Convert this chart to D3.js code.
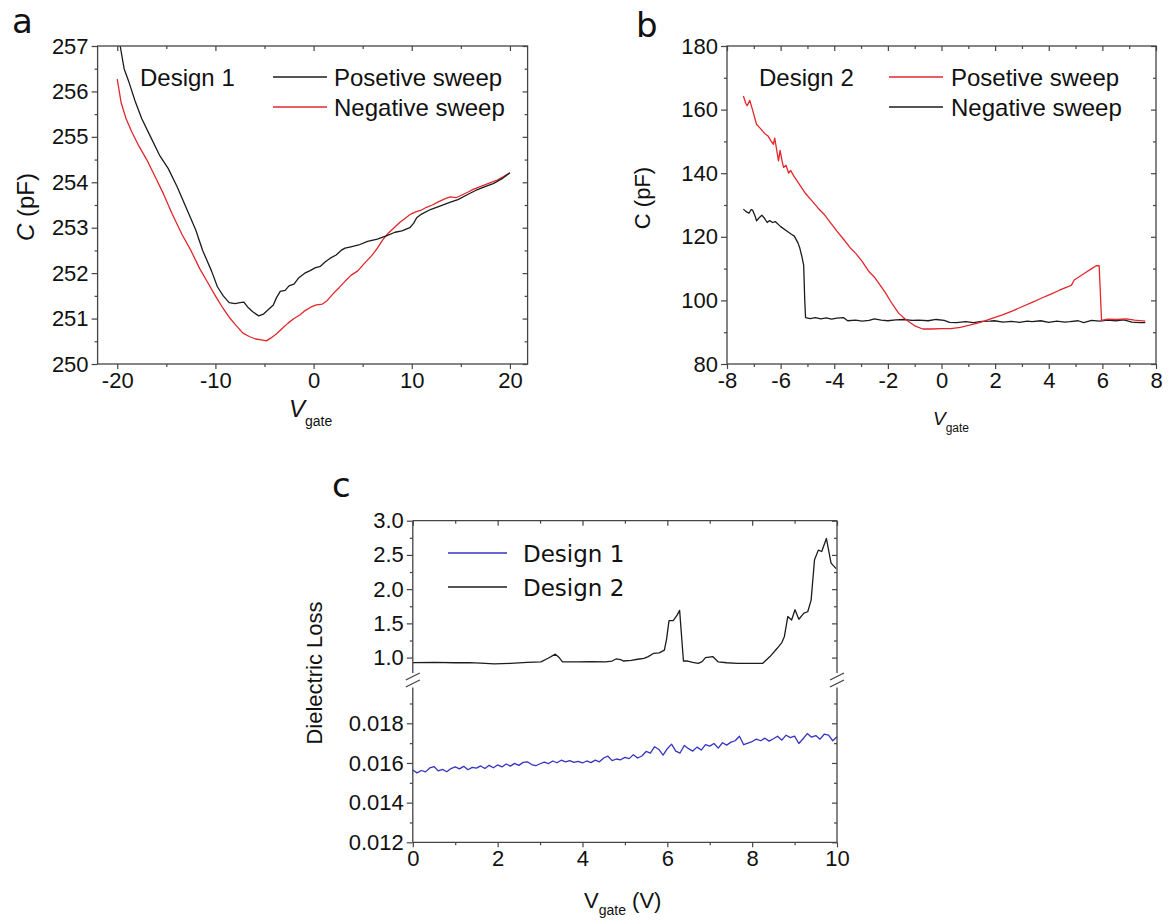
<!DOCTYPE html>
<html><head><meta charset="utf-8">
<script src="https://cdn.jsdelivr.net/npm/d3@7"></script>
<style>body{margin:0;background:#fff} svg{display:block}</style>
</head><body><svg id="chart" width="1169" height="921"></svg>
<script>
// ---------- Panel a : Design 1, C vs Vgate ----------
const aPosV = [-20.0,-19.7,-19.3,-18.8,-18.2,-17.5,-16.6,-15.7,-14.8,-13.9,-12.9,-12.0,-11.3,-10.9,-10.4,-9.8,-9.2,-8.6,-8.0,-7.5,-7.1,-6.7,-6.2,-5.6,-5.1,-4.6,-4.1,-3.8,-3.4,-2.9,-2.5,-2.0,-1.5,-0.9,-0.4,0.2,0.7,1.2,1.7,2.3,2.8,3.2,3.8,4.6,5.5,6.5,7.4,8.3,9.0,9.8,10.2,10.5,11.0,11.9,12.8,13.8,14.7,15.6,16.5,17.4,18.3,19.2,20.0];
const aPosC = [257.6,257.0,256.5,256.2,255.8,255.4,255.0,254.6,254.3,253.9,253.4,252.95,252.5,252.3,252.05,251.7,251.5,251.35,251.33,251.35,251.36,251.25,251.15,251.06,251.1,251.2,251.3,251.45,251.6,251.62,251.72,251.76,251.9,252.0,252.05,252.12,252.15,252.25,252.33,252.4,252.5,252.55,252.58,252.62,252.7,252.75,252.82,252.9,252.93,253.0,253.1,253.22,253.3,253.4,253.47,253.55,253.62,253.72,253.82,253.9,253.97,254.08,254.21];
const aNegV = [-20.0,-19.6,-19.1,-18.5,-17.8,-17.0,-16.2,-15.3,-14.4,-13.4,-12.5,-11.6,-10.8,-10.0,-9.3,-8.6,-7.9,-7.2,-6.5,-5.9,-5.3,-4.8,-4.3,-3.8,-3.2,-2.6,-2.0,-1.4,-0.9,-0.3,0.3,0.9,1.4,2.0,2.6,3.2,3.8,4.5,5.2,5.9,6.5,7.1,7.6,8.2,8.8,9.4,9.9,10.4,10.9,11.5,12.1,12.7,13.3,13.9,14.5,15.1,15.7,16.3,16.9,17.5,18.1,18.7,19.3,20.0];
const aNegC = [256.27,255.75,255.4,255.1,254.8,254.5,254.15,253.75,253.3,252.85,252.5,252.1,251.8,251.5,251.25,251.03,250.85,250.68,250.6,250.55,250.53,250.51,250.58,250.66,250.78,250.9,251.0,251.08,251.17,251.25,251.3,251.32,251.4,251.55,251.68,251.82,251.95,252.05,252.22,252.38,252.55,252.75,252.88,253.0,253.12,253.22,253.3,253.35,253.38,253.45,253.5,253.57,253.63,253.68,253.66,253.72,253.78,253.85,253.9,253.95,254.0,254.05,254.12,254.21];
const aXTicks = [-20,-10,0,10,20];
const aXMinor = [-15,-5,5,15];
const aYTicks = [250,251,252,253,254,255,256,257];
const aYMinor = [250.5,251.5,252.5,253.5,254.5,255.5,256.5];

// ---------- Panel b : Design 2, C vs Vgate ----------
const bPosV = [-7.39,-7.3,-7.25,-7.15,-7.05,-6.9,-6.75,-6.6,-6.48,-6.35,-6.27,-6.22,-6.15,-6.08,-6.02,-5.95,-5.89,-5.8,-5.7,-5.63,-5.5,-5.3,-5.07,-4.8,-4.6,-4.37,-4.1,-3.9,-3.66,-3.4,-3.2,-2.96,-2.7,-2.5,-2.39,-2.1,-1.83,-1.6,-1.4,-1.27,-1.0,-0.7,-0.4,0,0.35,0.7,1.05,1.41,1.7,1.97,2.3,2.68,3.0,3.38,3.7,4.08,4.4,4.72,4.85,4.95,5.35,5.6,5.77,5.88,5.97,6.2,6.5,6.9,7.2,7.6];
const bPosC = [164.3,162.0,161.2,162.9,160.0,155.4,154.0,152.5,151.8,150.0,149.1,151.0,147.5,143.9,147.2,144.0,141.8,142.5,140.0,140.9,139.0,136.5,133.6,131.0,129.0,127.0,124.0,121.8,119.3,116.5,114.8,112.3,109.0,107.3,106.0,102.5,98.8,96.0,94.5,93.6,92.0,91.0,91.0,91.1,91.1,91.5,92.2,93.0,93.8,94.6,95.5,96.8,98.0,99.4,100.6,102.0,103.2,104.3,104.8,106.4,108.6,110.0,110.9,110.9,93.7,94.1,94.0,94.2,93.8,93.5];
const bNegV = [-7.39,-7.3,-7.18,-7.1,-7.04,-6.95,-6.9,-6.8,-6.7,-6.62,-6.5,-6.41,-6.3,-6.2,-6.0,-5.77,-5.6,-5.49,-5.35,-5.28,-5.2,-5.14,-5.1,-5.07,-4.9,-4.7,-4.5,-4.3,-4.1,-3.9,-3.66,-3.5,-3.2,-2.96,-2.7,-2.5,-2.25,-2.0,-1.7,-1.4,-1.1,-0.85,-0.5,-0.2,0.1,0.3,0.56,0.9,1.2,1.5,1.8,1.97,2.3,2.6,2.9,3.2,3.38,3.7,4.0,4.3,4.6,4.79,5.1,5.3,5.6,5.9,6.2,6.5,6.8,7.1,7.4,7.6];
const bNegC = [128.7,128.0,127.4,128.6,128.3,126.5,125.0,126.0,126.8,126.0,124.5,125.1,124.5,124.8,123.2,121.8,120.8,120.2,118.0,116.3,113.5,111.0,100.0,94.6,94.3,94.6,94.2,94.5,94.1,94.4,94.6,93.6,93.8,93.5,93.7,94.2,93.8,93.6,93.9,94.0,93.7,93.8,93.6,94.0,93.7,93.1,93.0,93.3,93.0,93.4,93.5,93.6,93.2,93.4,93.1,93.5,93.3,93.6,93.1,93.5,93.2,93.3,93.6,93.0,93.7,93.5,93.8,93.6,93.9,93.2,93.0,93.0];
const bXTicks = [-8,-6,-4,-2,0,2,4,6,8];
const bXMinor = [-7,-5,-3,-1,1,3,5,7];
const bYTicks = [80,100,120,140,160,180];
const bYMinor = [90,110,130,150,170];

// ---------- Panel c : Dielectric loss ----------
const cD2V = [0,0.5,1.0,1.33,1.6,1.92,2.3,2.7,3.02,3.19,3.36,3.45,3.53,3.87,4.2,4.54,4.7,4.79,4.9,4.96,5.15,5.3,5.45,5.55,5.68,5.81,5.93,5.98,6.04,6.14,6.23,6.29,6.38,6.48,6.6,6.73,6.82,6.9,7.07,7.2,7.4,7.66,8.0,8.25,8.42,8.59,8.7,8.76,8.84,8.93,9.01,9.1,9.22,9.31,9.39,9.47,9.56,9.64,9.75,9.86,9.98];
const cD2L = [0.927,0.93,0.925,0.927,0.92,0.908,0.915,0.93,0.937,0.99,1.05,1.0,0.937,0.937,0.94,0.937,0.95,0.98,0.97,0.95,0.96,0.976,0.99,1.015,1.063,1.07,1.11,1.26,1.54,1.54,1.62,1.69,0.95,0.95,0.93,0.917,0.94,1.0,1.015,0.937,0.925,0.917,0.915,0.917,1.015,1.136,1.22,1.31,1.6,1.55,1.70,1.56,1.65,1.67,1.84,2.43,2.57,2.55,2.74,2.38,2.30];
const cD1V = [0,0.1,0.2,0.3,0.4,0.5,0.6,0.7,0.8,0.9,1.0,1.1,1.2,1.3,1.4,1.5,1.6,1.7,1.8,1.9,2.0,2.1,2.2,2.3,2.4,2.5,2.6,2.7,2.8,2.9,3.0,3.1,3.2,3.3,3.4,3.5,3.6,3.7,3.8,3.9,4.0,4.1,4.2,4.3,4.4,4.5,4.6,4.7,4.8,4.9,5.0,5.1,5.2,5.3,5.4,5.5,5.6,5.7,5.8,5.9,6.0,6.1,6.2,6.3,6.4,6.5,6.6,6.7,6.8,6.9,7.0,7.1,7.2,7.3,7.4,7.5,7.6,7.7,7.8,7.9,8.0,8.1,8.2,8.3,8.4,8.5,8.6,8.7,8.8,8.9,9.0,9.1,9.2,9.3,9.4,9.5,9.6,9.7,9.8,9.9,10.0];
const cD1L = [0.01565,0.01550,0.01562,0.01555,0.01575,0.01582,0.01560,0.01568,0.01556,0.01572,0.01580,0.01570,0.01583,0.01566,0.01578,0.01574,0.01585,0.01572,0.01588,0.01576,0.01590,0.01580,0.01595,0.01584,0.01598,0.01588,0.01603,0.01606,0.01592,0.01586,0.01596,0.01604,0.01597,0.01610,0.01601,0.01614,0.01606,0.01612,0.01603,0.01608,0.01600,0.01610,0.01602,0.01614,0.01606,0.01625,0.01634,0.01612,0.01620,0.01616,0.01628,0.01622,0.01642,0.01625,0.01635,0.01658,0.01650,0.01682,0.01668,0.01640,0.01672,0.01695,0.01660,0.01650,0.01688,0.01672,0.01660,0.01680,0.01665,0.01692,0.01685,0.01698,0.01675,0.01702,0.01690,0.01705,0.01712,0.01735,0.01692,0.01700,0.01708,0.01720,0.01712,0.01725,0.01710,0.01722,0.01735,0.01715,0.01740,0.01728,0.01735,0.01698,0.01722,0.01748,0.01730,0.01738,0.01720,0.01745,0.01740,0.01712,0.01732];
const cXTicks = [0,2,4,6,8,10];
const cXMinor = [1,3,5,7,9];
const cUpTicks = [1.0,1.5,2.0,2.5,3.0];
const cUpMinor = [1.25,1.75,2.25,2.75];
const cLoTicks = [0.012,0.014,0.016,0.018];
const cLoMinor = [0.013,0.015,0.017,0.019];

// ---------- drawing ----------
const svg = d3.select('#chart');
const SANS = "'Liberation Sans', Arial, Helvetica, sans-serif";
const DV = "'DejaVu Sans', Verdana, sans-serif";
const FRAME = '#444';
const BLACK = '#1c1c1c', RED = '#e3262c', BLUE = '#3434c0';
const TFS = 22;
const zip = (a, b) => a.map((v, i) => [v, b[i]]);
const fmtPlain = d => String(d);

function axis(g, gen, tx, ty, fs) {
  const a = g.append('g').attr('transform', `translate(${tx},${ty})`).call(gen);
  a.select('.domain').remove();
  a.selectAll('line').attr('stroke', FRAME).attr('stroke-width', 1.2);
  a.selectAll('text').attr('font-family', SANS).attr('font-size', fs || TFS).attr('fill', '#111');
  return a;
}
const none = () => '';

function xAxes(g, x, yb, yt, major, minor, fmt) {
  axis(g, d3.axisBottom(x).tickValues(major).tickFormat(fmt).tickSize(5).tickPadding(3), 0, yb);
  axis(g, d3.axisBottom(x).tickValues(minor).tickFormat(none).tickSize(3), 0, yb);
  axis(g, d3.axisTop(x).tickValues(major).tickFormat(none).tickSize(-5), 0, yt);
  axis(g, d3.axisTop(x).tickValues(minor).tickFormat(none).tickSize(-3), 0, yt);
}
function yAxes(g, y, xl, xr, major, minor, fmt) {
  axis(g, d3.axisLeft(y).tickValues(major).tickFormat(fmt).tickSize(6).tickPadding(3), xl, 0);
  axis(g, d3.axisLeft(y).tickValues(minor).tickFormat(none).tickSize(3), xl, 0);
  axis(g, d3.axisRight(y).tickValues(major).tickFormat(none).tickSize(-5), xr, 0);
  axis(g, d3.axisRight(y).tickValues(minor).tickFormat(none).tickSize(-3), xr, 0);
}
function frame(g, x, y) {
  const [x0, x1] = x.range(), [y0, y1] = y.range();
  g.append('rect').attr('x', x0).attr('y', y1).attr('width', x1 - x0).attr('height', y0 - y1)
    .attr('fill', 'none').attr('stroke', FRAME).attr('stroke-width', 1.3);
}
function clip(id, x, y) {
  const [x0, x1] = x.range(), [y0, y1] = y.range();
  svg.append('clipPath').attr('id', id).append('rect')
    .attr('x', x0).attr('y', y1).attr('width', x1 - x0).attr('height', y0 - y1);
}
function curve(g, x, y, xs, ys, color, clipId) {
  g.append('path').datum(zip(xs, ys))
    .attr('d', d3.line().x(d => x(d[0])).y(d => y(d[1])))
    .attr('fill', 'none').attr('stroke', color).attr('stroke-width', 1.3)
    .attr('stroke-linejoin', 'round')
    .attr('clip-path', clipId ? `url(#${clipId})` : null);
}
function txt(g, x, y, s, opt) {
  const t = g.append('text').attr('x', x).attr('y', y)
    .attr('font-family', opt.ff || SANS).attr('font-size', opt.fs || 21).attr('fill', '#111');
  if (opt.anchor) t.attr('text-anchor', opt.anchor);
  if (opt.italic) t.attr('font-style', 'italic');
  if (opt.rot) t.attr('transform', `rotate(-90,${x},${y})`);
  t.text(s);
  return t;
}
function legendLine(g, x0, x1, y, color) {
  g.append('line').attr('x1', x0).attr('x2', x1).attr('y1', y).attr('y2', y)
    .attr('stroke', color).attr('stroke-width', 1.4);
}

// ===== Panel a =====
{
  const g = svg.append('g');
  const x = d3.scaleLinear().domain([-22, 21.8]).range([97.6, 527.6]);
  const y = d3.scaleLinear().domain([250, 257]).range([364, 46]);
  clip('clipA', x, y);
  curve(g, x, y, aNegV, aNegC, RED, 'clipA');
  curve(g, x, y, aPosV, aPosC, BLACK, 'clipA');
  frame(g, x, y);
  xAxes(g, x, 364, 46, aXTicks, aXMinor, fmtPlain);
  yAxes(g, y, 97.6, 527.6, aYTicks, aYMinor, fmtPlain);
  txt(g, 12, 33, 'a', {ff: DV, fs: 34});
  txt(g, 140, 86, 'Design 1', {fs: 24});
  legendLine(g, 273, 327, 77, BLACK);
  txt(g, 334, 86, 'Posetive sweep', {fs: 24});
  legendLine(g, 273, 327, 107, RED);
  txt(g, 334, 116, 'Negative sweep', {fs: 24});
  const yl = g.append('text').attr('transform', 'translate(34,207) rotate(-90)')
    .attr('text-anchor', 'middle').attr('font-family', SANS).attr('font-size', 24).attr('fill', '#111');
  yl.append('tspan').attr('font-style', 'italic').text('C');
  yl.append('tspan').text(' (pF)');
  const xl = g.append('text').attr('x', 289).attr('y', 417).attr('font-family', SANS).attr('fill', '#111');
  xl.append('tspan').attr('font-size', 24).attr('font-style', 'italic').text('V');
  xl.append('tspan').attr('font-size', 14).attr('dy', 9).text('gate');
}

// ===== Panel b =====
{
  const g = svg.append('g');
  const x = d3.scaleLinear().domain([-8, 8]).range([727, 1156]);
  const y = d3.scaleLinear().domain([80, 180]).range([364, 46]);
  clip('clipB', x, y);
  curve(g, x, y, bNegV, bNegC, BLACK, 'clipB');
  curve(g, x, y, bPosV, bPosC, RED, 'clipB');
  frame(g, x, y);
  xAxes(g, x, 364, 46, bXTicks, bXMinor, fmtPlain);
  yAxes(g, y, 727, 1156, bYTicks, bYMinor, fmtPlain);
  txt(g, 636, 37, 'b', {ff: DV, fs: 34});
  txt(g, 759, 86, 'Design 2', {fs: 24});
  legendLine(g, 889, 943, 77, RED);
  txt(g, 951, 86, 'Posetive sweep', {fs: 24});
  legendLine(g, 889, 943, 107, BLACK);
  txt(g, 951, 116, 'Negative sweep', {fs: 24});
  txt(g, 650, 198, 'C (pF)', {fs: 22, anchor: 'middle', rot: true});
  const xl = g.append('text').attr('x', 933).attr('y', 425).attr('font-family', SANS).attr('fill', '#111');
  xl.append('tspan').attr('font-size', 19).attr('font-style', 'italic').text('V');
  xl.append('tspan').attr('font-size', 12).attr('dy', 7).text('gate');
}

// ===== Panel c (broken y axis) =====
{
  const g = svg.append('g');
  const X0 = 412.8, X1 = 837;
  const x = d3.scaleLinear().domain([0, 10]).range([X0, X1]);
  const yU = d3.scaleLinear().domain([0.775, 3.0]).range([673, 520.7]);
  const yL = d3.scaleLinear().domain([0.012, 0.0198]).range([842.3, 687.6]);
  curve(g, x, yL, cD1V, cD1L, BLUE);
  curve(g, x, yU, cD2V, cD2L, BLACK);
  const seg = (x1, y1, x2, y2) => g.append('line').attr('x1', x1).attr('y1', y1).attr('x2', x2).attr('y2', y2)
    .attr('stroke', FRAME).attr('stroke-width', 1.3);
  seg(X0, 520.7, X1, 520.7);
  seg(X0, 842.3, X1, 842.3);
  [X0, X1].forEach(xx => {
    seg(xx, 520.7, xx, 673);
    seg(xx, 687.6, xx, 842.3);
    seg(xx - 7, 680, xx + 7, 673);
    seg(xx - 7, 687, xx + 7, 680);
  });
  xAxes(g, x, 842.3, 520.7, cXTicks, cXMinor, fmtPlain);
  yAxes(g, yU, X0, X1, cUpTicks, cUpMinor, d3.format('.1f'));
  yAxes(g, yL, X0, X1, cLoTicks, cLoMinor, d3.format('.3f'));
  txt(g, 332, 497, 'c', {ff: DV, fs: 34});
  legendLine(g, 448, 507, 553, BLUE);
  txt(g, 523, 562, 'Design 1', {ff: DV, fs: 23});
  legendLine(g, 448, 507, 587, BLACK);
  txt(g, 523, 596, 'Design 2', {ff: DV, fs: 23});
  txt(g, 322, 673, 'Dielectric Loss', {fs: 22, anchor: 'middle', rot: true});
  const xl = g.append('text').attr('x', 584).attr('y', 908).attr('font-family', SANS).attr('fill', '#111');
  xl.append('tspan').attr('font-size', 22).text('V');
  xl.append('tspan').attr('font-size', 14).attr('dy', 7).text('gate');
  xl.append('tspan').attr('font-size', 22).attr('dy', -7).text(' (V)');
}
</script></body></html>
